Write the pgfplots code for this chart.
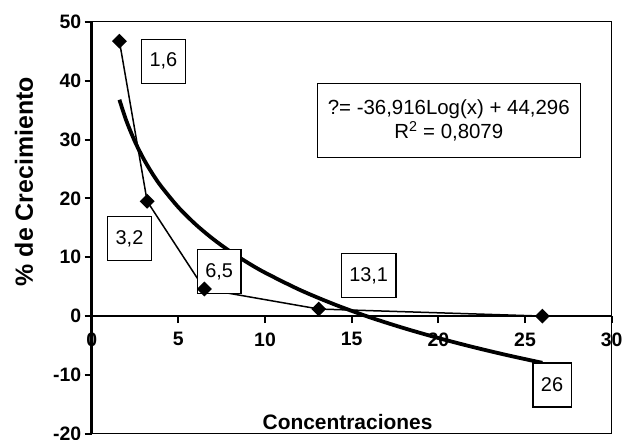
\documentclass[border=0pt]{standalone}
\usepackage{fontspec}
\setmainfont{Liberation Sans}
\usepackage{pgfplots}
\pgfplotsset{compat=1.18}
\begin{document}
\begin{tikzpicture}
\begin{axis}[
  scale only axis,
  width=520bp, height=412bp,
  xmin=0, xmax=30, ymin=-20, ymax=50,
  axis x line=middle, axis y line=left,
  axis line style={-, line width=2.6bp},
  hide obscured x ticks=false,
  xtick={0,5,...,30}, ytick={-20,-10,...,50},
  xtick align=outside, ytick align=outside,
  major tick length=7bp,
  every tick/.style={line width=2bp, black},
  /pgf/number format/assume math mode=true,
  ticklabel style={font=\fontsize{19.5}{21}\selectfont\bfseries},
  x tick label style={yshift=-6bp},
  xlabel={Concentraciones},
  ylabel={\% de Crecimiento},
  xlabel style={at={(axis description cs:0.492,0.029)}, anchor=center, font=\fontsize{21}{23}\selectfont\bfseries},
  ylabel style={at={(axis description cs:-0.130,0.612)}, anchor=center, rotate=0, font=\fontsize{25}{27}\selectfont\bfseries},
  clip=false,
]
\draw[line width=0.8bp] (rel axis cs:0,0) rectangle (rel axis cs:1,1);
% logarithmic trend line (points of y = -36.916 log10(x) + 44.296)
\addplot[black, line width=3.8bp, smooth] coordinates {
 (1.6,36.76) (2,33.18) (2.5,29.61) (3,26.68) (3.5,24.21) (4,22.07) (5,18.49)
 (6,15.57) (7,13.10) (8,10.96) (9,9.07) (10,7.38) (12,4.46) (14,1.99)
 (16,-0.16) (18,-2.04) (20,-3.73) (22,-5.26) (24,-6.66) (26,-7.94)};
% data
\addplot[black, line width=1.5bp, mark=square*, mark size=4.5bp, mark options={solid, rotate=45}] coordinates {
 (1.6,46.7) (3.2,19.5) (6.5,4.6) (13.1,1.2) (26,0)};
\tikzset{lbl/.style={draw, line width=1.3bp, fill=white, font=\fontsize{20}{22}\selectfont, minimum height=44bp, inner xsep=8bp}}
\node[lbl] at (axis cs:4.14,43.3) {1,6};
\node[lbl] at (axis cs:2.18,13.2) {3,2};
\node[lbl] at (axis cs:7.35,7.6) {6,5};
\node[lbl] at (axis cs:15.98,6.9) {13,1};
\node[lbl] at (axis cs:26.56,-11.7) {26};
\node[draw, line width=1.3bp, fill=white, font=\fontsize{20.5}{24}\selectfont, align=center, minimum width=263bp, minimum height=74bp, inner sep=2bp] at (axis cs:20.6,33.2)
  {?= -36,916Log(x) + 44,296\\R\textsuperscript{2} = 0,8079};
\end{axis}
\pgfresetboundingbox
\useasboundingbox ([xshift=-91.7bp, yshift=-6.2bp]current axis.south west) rectangle ++(632bp,440bp);
\end{tikzpicture}
\end{document}
